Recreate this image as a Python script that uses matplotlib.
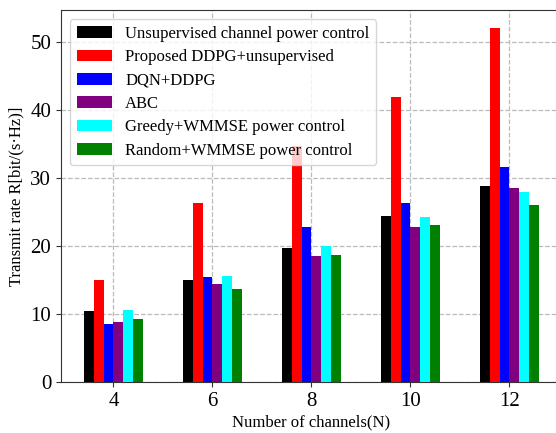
import matplotlib
matplotlib.use("Agg")
import matplotlib.pyplot as plt
import numpy as np

plt.rcParams['font.family'] = ['Liberation Serif', 'DejaVu Serif']

channels = [4, 6, 8, 10, 12]
series_names = [
    "Unsupervised channel power control",
    "Proposed DDPG+unsupervised",
    "DQN+DDPG",
    "ABC",
    "Greedy+WMMSE power control",
    "Random+WMMSE power control",
]
unsupervised = [10.5, 15.0, 19.7, 24.5, 28.9]
proposed = [15.0, 26.4, 34.8, 42.0, 52.1]
dqn_ddpg = [8.5, 15.5, 22.8, 26.4, 31.7]
abc = [8.8, 14.4, 18.6, 22.8, 28.6]
greedy = [10.6, 15.6, 20.0, 24.3, 28.0]
random_w = [9.2, 13.7, 18.7, 23.1, 26.1]
colors = ['black', 'red', 'blue', 'purple', 'cyan', 'green']

data = [unsupervised, proposed, dqn_ddpg, abc, greedy, random_w]

fig = plt.figure(figsize=(5.56, 4.33), dpi=100)
ax = fig.add_axes([0.1097, 0.1178, 0.901, 0.859])

w = 0.2
x = np.array(channels, dtype=float)
for i, (vals, c, name) in enumerate(zip(data, colors, series_names)):
    ax.bar(x + (i - 2.5) * w, vals, width=w, color=c, label=name, zorder=3)

ax.set_xlim(2.94, 13.06)
ax.set_ylim(0, 54.75)
ax.set_xticks(channels)
ax.set_yticks([0, 10, 20, 30, 40, 50])
ax.tick_params(labelsize=15, color='#333333')
ax.grid(True, linestyle='--', color='#bbbbbb', linewidth=0.9, zorder=0)
ax.set_axisbelow(True)
for s in ax.spines.values():
    s.set_color('#333333')

ax.set_xlabel("Number of channels(N)", fontsize=12, labelpad=3)
ax.set_ylabel("Transmit rate R[bit/(s·Hz)]", fontsize=12, labelpad=4)

leg = ax.legend(loc='upper left', fontsize=12, framealpha=0.8,
                handlelength=2.1, labelspacing=0.44, borderaxespad=0.55,
                edgecolor='#cccccc')

fig.savefig("out.png", dpi=100)
